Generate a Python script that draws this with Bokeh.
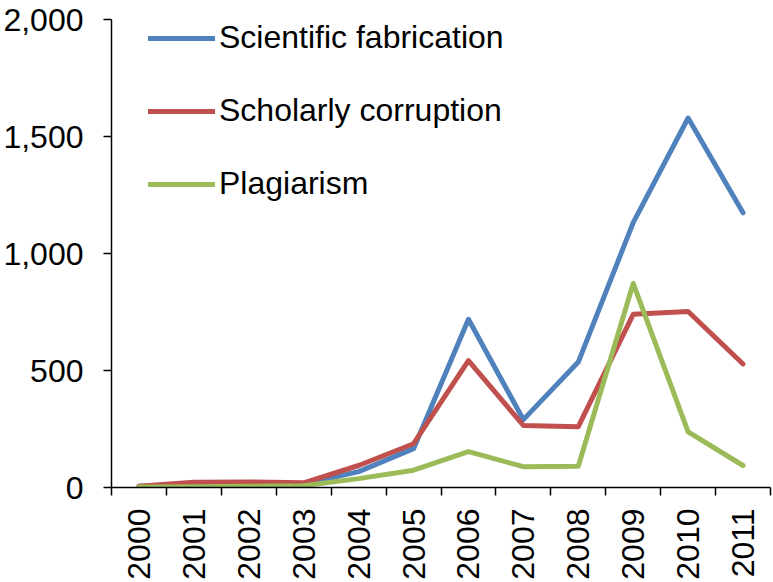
from math import pi
from bokeh.plotting import figure
from bokeh.models import Range1d, FixedTicker, NumeralTickFormatter, Legend, LegendItem
from bokeh.embed import file_html
from bokeh.resources import INLINE

years = [2000, 2001, 2002, 2003, 2004, 2005, 2006, 2007, 2008, 2009, 2010, 2011]
scientific_fabrication = [5, 15, 18, 15, 68, 166, 719, 290, 536, 1132, 1579, 1174]
scholarly_corruption = [5, 22, 24, 20, 94, 187, 542, 265, 260, 740, 752, 528]
plagiarism = [2, 3, 5, 8, 38, 74, 153, 89, 91, 872, 238, 94]
series_names = ["Scientific fabrication", "Scholarly corruption", "Plagiarism"]
colors = ["#4F81BD", "#C0504D", "#9BBB59"]
y_ticks = [0, 500, 1000, 1500, 2000]

FONT = "Liberation Sans"
FS = "32px"

p = figure(width=773, height=582, output_backend="svg", toolbar_location=None,
           x_range=Range1d(years[0] - 0.5, years[-1] + 0.5),
           y_range=Range1d(0, 2000),
           min_border_left=108, min_border_right=3, min_border_top=19,
           min_border_bottom=93)
p.outline_line_color = None
p.xgrid.visible = False
p.ygrid.visible = False
p.background_fill_color = "white"
p.border_fill_color = "white"

renderers = []
for name, vals, col in zip(series_names,
                           [scientific_fabrication, scholarly_corruption, plagiarism],
                           colors):
    r = p.line(years, vals, line_color=col, line_width=5,
               line_cap="round", line_join="round")
    renderers.append(r)

# x axis
xa = p.xaxis[0]
xa.ticker = FixedTicker(ticks=years, minor_ticks=[y - 0.5 for y in years] + [years[-1] + 0.5])
xa.major_label_overrides = {y: str(y) for y in years}
xa.major_label_orientation = pi / 2
xa.major_tick_line_color = None
xa.major_tick_out = 8
xa.major_tick_in = 0
xa.minor_tick_line_color = "black"
xa.minor_tick_line_width = 1.5
xa.minor_tick_out = 8
xa.minor_tick_in = 0
xa.axis_line_color = "black"
xa.axis_line_width = 1.5
xa.major_label_standoff = 13
xa.major_label_text_font = FONT
xa.major_label_text_font_size = FS
xa.major_label_text_color = "black"

# y axis
ya = p.yaxis[0]
ya.ticker = FixedTicker(ticks=y_ticks)
ya.formatter = NumeralTickFormatter(format="0,0")
ya.minor_tick_line_color = None
ya.major_tick_line_color = "black"
ya.major_tick_line_width = 1.5
ya.major_tick_out = 8
ya.major_tick_in = 0
ya.axis_line_color = "black"
ya.axis_line_width = 1.5
ya.major_label_standoff = 20
ya.major_label_text_font = FONT
ya.major_label_text_font_size = FS
ya.major_label_text_color = "black"

legend = Legend(items=[LegendItem(label=n, renderers=[r]) for n, r in zip(series_names, renderers)],
                location=(37, 285), orientation="vertical",
                border_line_color=None, background_fill_alpha=0,
                padding=0, margin=0, spacing=36,
                glyph_width=67, glyph_height=30, label_height=30,
                label_standoff=4, label_text_font=FONT,
                label_text_font_size=FS, label_text_color="black")
p.add_layout(legend, "center")

open("out.html", "w").write(file_html(p, INLINE))
